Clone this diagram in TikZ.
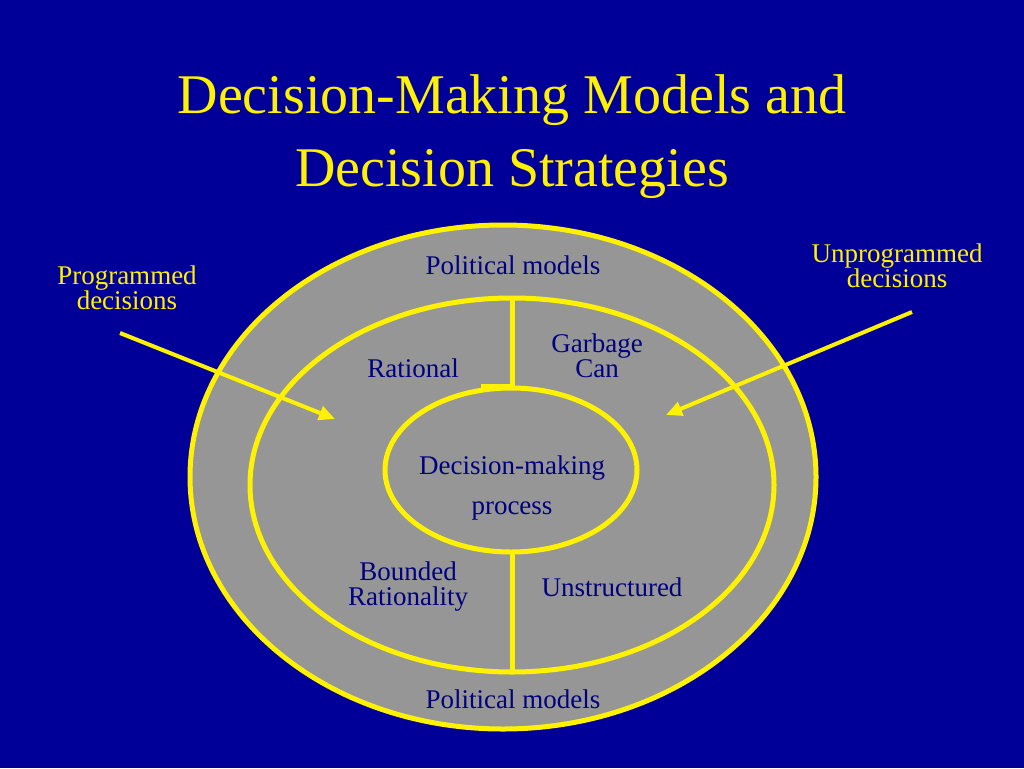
\documentclass[tikz,border=0pt]{standalone}
\usepackage{fontspec}
\setmainfont{Liberation Serif}
\usetikzlibrary{positioning,arrows.meta}
\definecolor{slideblue}{RGB}{0,0,153}
\definecolor{ringgray}{RGB}{150,150,150}
\definecolor{labelnavy}{RGB}{0,0,128}

\begin{document}
\begin{tikzpicture}[
    x=1pt, y=-1pt,
    ring/.style = {draw=yellow, line width=5pt, fill=ringgray},
    inlabel/.style = {text=labelnavy, font=\fontsize{27}{25}\selectfont, align=center, inner sep=0pt},
    outlabel/.style = {text=yellow, font=\fontsize{27}{25}\selectfont, align=center, inner sep=0pt},
    > = {Triangle[length=16pt, width=14pt]}
]
\fill[slideblue] (0,0) rectangle (1024,768);

\node (title) [text=yellow, font=\fontsize{56}{73}\selectfont, align=center] at (512,137)
    {Decision-Making Models and\\Decision Strategies};

% rings
\draw[ring] (503,477) ellipse [x radius=313, y radius=252];
\draw[ring] (512,485) ellipse [x radius=262, y radius=187];
\draw[ring] (511,470) ellipse [x radius=126, y radius=82];
\draw[yellow, line width=5pt] (512,298) -- (512,388);
\draw[yellow, line width=4pt] (481,386) -- (512,386);
\draw[yellow, line width=5pt] (512,552) -- (512,672);

% labels
\node (poltop) [inlabel] at (513,265) {Political models};
\node (polbot) [inlabel] at (513,699) {Political models};
\node (rat) [inlabel] at (413,368) {Rational};
\node (gar) [inlabel] at (597,356) {Garbage\\Can};
\node (core) [inlabel, font=\fontsize{27}{40}\selectfont] at (512,488) {Decision-making\\process};
\node (bound) [inlabel] at (408,587) {Bounded\\Rationality};
\node (unstr) [inlabel] at (612,587) {Unstructured};

\node (prog) [outlabel] at (127,288) {Programmed\\decisions};
\node (unprog) [outlabel] at (897,266) {Unprogrammed\\decisions};

\coordinate (progtail) at (120,333);
\coordinate (proghead) at (335,419);
\coordinate (unprogtail) at (912,312);
\coordinate (unproghead) at (666,415);
\draw[->, yellow, line width=4pt] (progtail) -- (proghead);
\draw[->, yellow, line width=4pt] (unprogtail) -- (unproghead);
\end{tikzpicture}
\end{document}
